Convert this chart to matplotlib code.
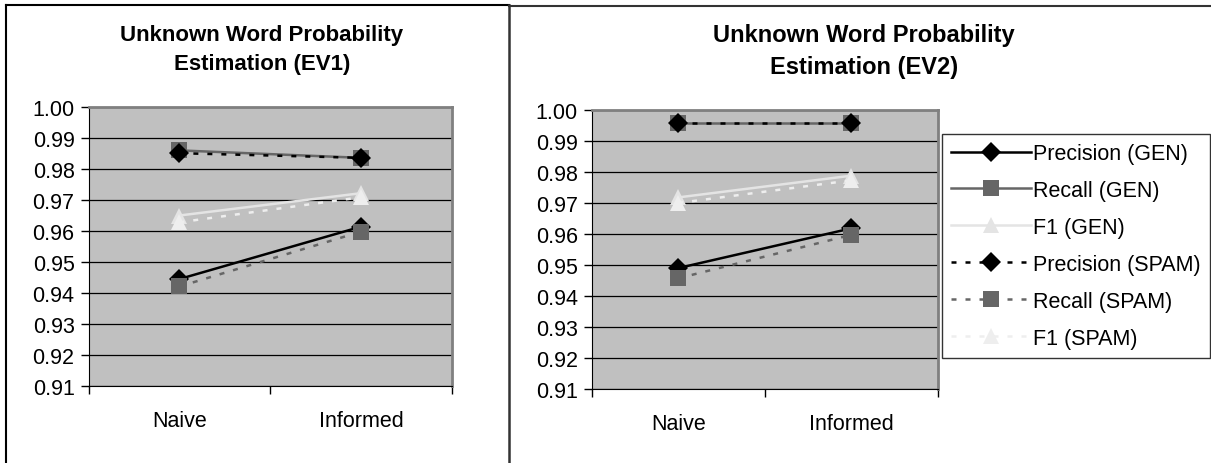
import matplotlib.pyplot as plt
from matplotlib.lines import Line2D

plt.rcParams['font.family'] = ['Liberation Sans', 'DejaVu Sans']

categories = ['Naive', 'Informed']
series_names = ['Precision (GEN)', 'Recall (GEN)', 'F1 (GEN)',
                'Precision (SPAM)', 'Recall (SPAM)', 'F1 (SPAM)']

# EV1 values (Naive, Informed)
ev1_prec_gen = [0.9445, 0.9614]
ev1_rec_gen = [0.9860, 0.9836]
ev1_f1_gen = [0.9650, 0.9722]
ev1_prec_spam = [0.9851, 0.9836]
ev1_rec_spam = [0.9421, 0.9598]
ev1_f1_spam = [0.9628, 0.9709]

# EV2 values (Naive, Informed)
ev2_prec_gen = [0.9490, 0.9618]
ev2_rec_gen = [0.9958, 0.9958]
ev2_f1_gen = [0.9718, 0.9788]
ev2_prec_spam = [0.9957, 0.9957]
ev2_rec_spam = [0.9457, 0.9597]
ev2_f1_spam = [0.9700, 0.9773]

yticks = [0.91, 0.92, 0.93, 0.94, 0.95, 0.96, 0.97, 0.98, 0.99, 1.00]

# styles per series: color, marker, linestyle, markersize
dash = (0, (2.0, 3.6))
styles = [
    ('#000000', 'D', '-', 10),
    ('#666666', 's', '-', 11),
    ('#e4e4e4', '^', '-', 11),
    ('#000000', 'D', dash, 10),
    ('#666666', 's', dash, 11),
    ('#eeeeee', '^', dash, 11),
]

fig = plt.figure(figsize=(12.11, 4.64), dpi=100)
W, H = 1211, 464


def fx(px):
    return px / W


def fy(py):
    return 1 - py / H


# panel frames
fig.add_artist(Line2D([fx(6), fx(509)], [fy(6), fy(6)], color='black', lw=1.5))
fig.add_artist(Line2D([fx(6), fx(6)], [fy(6), fy(470)], color='black', lw=1.5))
fig.add_artist(Line2D([fx(509), fx(509)], [fy(6), fy(470)], color='#333333', lw=1.8))
fig.add_artist(Line2D([fx(509), fx(1215)], [fy(7), fy(7)], color='#333333', lw=1.5))


def draw_panel(ax, data, title, title_y, title_x, tsize):
    ax.set_facecolor('#c0c0c0')
    x = range(len(categories))
    for vals, (c, m, ls, ms), name in zip(data, styles, series_names):
        ax.plot(x, vals, color=c, marker=m, linestyle=ls, markersize=ms,
                lw=1.8, label=name, markeredgewidth=0, clip_on=False)
    ax.set_xlim(-0.5, 1.5)
    ax.set_ylim(0.91, 1.00)
    ax.set_yticks(yticks)
    ax.set_yticklabels([f'{v:.2f}' for v in yticks], fontsize=15.5)
    ax.yaxis.grid(True, color='black', lw=0.9)
    ax.set_axisbelow(True)
    ax.set_xticks([-0.5, 0.5, 1.5])
    ax.set_xticklabels([])
    ax.set_xticks([0, 1], minor=True)
    ax.set_xticklabels(categories, minor=True, fontsize=15.5)
    ax.tick_params(axis='x', which='minor', length=0, pad=17)
    ax.tick_params(axis='x', which='major', length=6, width=1)
    ax.tick_params(axis='y', length=6, width=1, pad=4)
    for s in ['top', 'right']:
        ax.spines[s].set_color('#808080')
        ax.spines[s].set_linewidth(2)
    ax.spines['left'].set_color('black')
    ax.spines['bottom'].set_color('black')
    fig.text(fx(title_x), fy(title_y), title, ha='center', va='center',
             fontsize=tsize, fontweight='bold', linespacing=1.5)


ax1 = fig.add_axes([fx(88.5), fy(387), fx(452) - fx(88.5), (387 - 108) / H])
draw_panel(ax1, [ev1_prec_gen, ev1_rec_gen, ev1_f1_gen,
                 ev1_prec_spam, ev1_rec_spam, ev1_f1_spam],
           'Unknown Word Probability\nEstimation (EV1)', 50, 262, 16)

ax2 = fig.add_axes([fx(591.7), fy(390), fx(937.5) - fx(591.7), (390 - 111) / H])
draw_panel(ax2, [ev2_prec_gen, ev2_rec_gen, ev2_f1_gen,
                 ev2_prec_spam, ev2_rec_spam, ev2_f1_spam],
           'Unknown Word Probability\nEstimation (EV2)', 52, 864, 17)

leg = ax2.legend(loc='upper left', bbox_to_anchor=(fx(942), fy(135)),
                 bbox_transform=fig.transFigure, fontsize=15.5, frameon=True,
                 fancybox=False, edgecolor='black', handlelength=3.7,
                 handletextpad=0.1, labelspacing=0.74, borderpad=0.42,
                 borderaxespad=0)
leg.get_frame().set_linewidth(1.0)

fig.savefig('out.png', dpi=100)
